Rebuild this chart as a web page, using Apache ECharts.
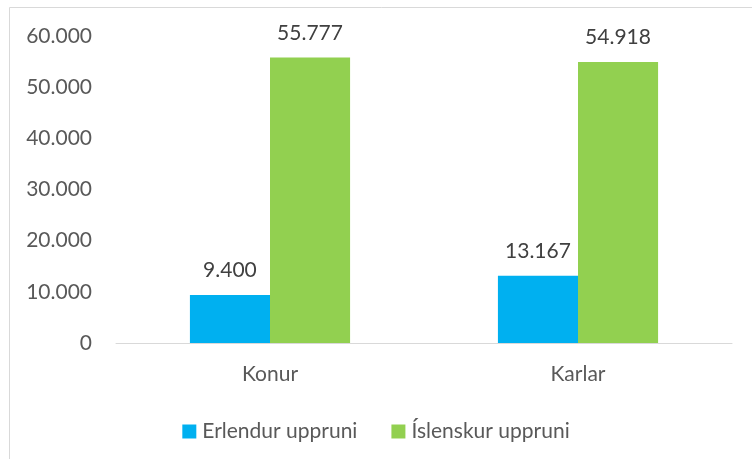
<!DOCTYPE html>
<html>
<head>
<meta charset="utf-8">
<script src="https://cdn.jsdelivr.net/npm/echarts@6/dist/echarts.min.js"></script>
<style>
  html, body { margin: 0; padding: 0; background: #fff; }
  #chart { width: 752px; height: 459px; }
</style>
</head>
<body>
<div id="chart"></div>
<script>
// gögnin
const categories = ['Konur', 'Karlar']
const seriesNames = ['Erlendur uppruni', 'Íslenskur uppruni']
const erlendur = [9400, 13167]
const islenskur = [55777, 54918]
const yTicks = [0, 10000, 20000, 30000, 40000, 50000, 60000]

const font = 'Lato, "Open Sans", sans-serif'

// 55777 -> 55.777
function fmt(v) {
  return String(v).replace(/\B(?=(\d{3})+(?!\d))/g, '.')
}

const chart = echarts.init(document.getElementById('chart'), null, { renderer: 'canvas' })

const option = {
  backgroundColor: '#fff',
  animation: false,
  graphic: [{
    type: 'rect',
    shape: { x: 9.5, y: 7.5, width: 760, height: 470 },
    style: { fill: 'none', stroke: '#d9d9d9', lineWidth: 1 },
    silent: true
  }],
  grid: { left: 116, right: 20, top: 36, bottom: 116 },
  legend: {
    top: 416,
    left: 'center',
    itemWidth: 14,
    itemHeight: 14,
    itemGap: 34,
    icon: 'rect',
    textStyle: { fontFamily: font, fontSize: 21, color: '#595959', padding: [0, 0, 0, 1] },
    data: seriesNames
  },
  xAxis: {
    type: 'category',
    data: categories,
    axisLine: { lineStyle: { color: '#d9d9d9', width: 1 } },
    axisTick: { show: false },
    axisLabel: { fontFamily: font, fontSize: 21, color: '#595959', margin: 21 }
  },
  yAxis: {
    type: 'value',
    min: yTicks[0],
    max: yTicks[yTicks.length - 1],
    interval: 10000,
    axisLine: { show: false },
    axisTick: { show: false },
    splitLine: { show: false },
    axisLabel: {
      fontFamily: font, fontSize: 21, color: '#595959', margin: 24,
      formatter: v => fmt(v)
    }
  },
  series: [
    {
      name: seriesNames[0],
      type: 'bar',
      data: erlendur,
      barGap: '0%',
      barCategoryGap: '48%',
      itemStyle: { color: '#00B0F0' },
      label: {
        show: true, position: 'top', distance: 14,
        fontFamily: font, fontSize: 21, color: '#404040',
        formatter: p => fmt(p.value)
      }
    },
    {
      name: seriesNames[1],
      type: 'bar',
      data: islenskur,
      barGap: '0%',
      barCategoryGap: '48%',
      itemStyle: { color: '#92D050' },
      label: {
        show: true, position: 'top', distance: 14,
        fontFamily: font, fontSize: 21, color: '#404040',
        formatter: p => fmt(p.value)
      }
    }
  ]
}

chart.setOption(option)
</script>
</body>
</html>
